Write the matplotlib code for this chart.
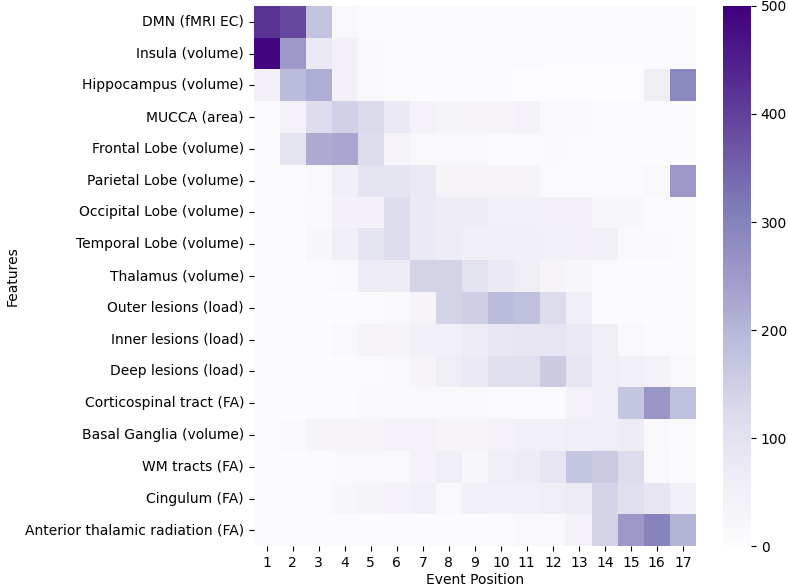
import numpy as np
import matplotlib
matplotlib.use("Agg")
import matplotlib.pyplot as plt
import seaborn as sns

features = [
    "DMN (fMRI EC)",
    "Insula (volume)",
    "Hippocampus (volume)",
    "MUCCA (area)",
    "Frontal Lobe (volume)",
    "Parietal Lobe (volume)",
    "Occipital Lobe (volume)",
    "Temporal Lobe (volume)",
    "Thalamus (volume)",
    "Outer lesions (load)",
    "Inner lesions (load)",
    "Deep lesions (load)",
    "Corticospinal tract (FA)",
    "Basal Ganglia (volume)",
    "WM tracts (FA)",
    "Cingulum (FA)",
    "Anterior thalamic radiation (FA)",
]
positions = list(range(1, 18))

# counts of each feature at each event position
dmn = [420, 390, 175, 20, 10, 8, 8, 8, 8, 8, 8, 8, 8, 8, 8, 10, 10]
insula = [490, 255, 75, 45, 15, 10, 8, 8, 8, 8, 10, 5, 5, 5, 5, 5, 5]
hippocampus = [45, 190, 215, 45, 20, 8, 5, 5, 5, 5, 3, 3, 3, 3, 3, 60, 290]
mucca = [10, 40, 115, 145, 125, 75, 40, 35, 30, 30, 40, 15, 15, 10, 8, 8, 8]
frontal = [10, 95, 220, 228, 120, 30, 20, 15, 15, 10, 10, 15, 10, 8, 5, 5, 5]
parietal = [5, 10, 20, 55, 95, 95, 80, 30, 30, 30, 30, 10, 10, 10, 10, 20, 255]
occipital = [5, 10, 15, 45, 45, 115, 75, 65, 65, 50, 50, 45, 45, 25, 25, 10, 10]
temporal = [5, 5, 25, 55, 95, 115, 75, 65, 55, 55, 55, 50, 45, 50, 15, 15, 10]
thalamus = [5, 5, 10, 15, 70, 70, 140, 140, 100, 75, 60, 30, 25, 10, 5, 5, 5]
outer = [5, 5, 5, 5, 8, 15, 30, 140, 150, 190, 180, 120, 60, 10, 8, 5, 5]
inner = [5, 5, 5, 20, 30, 30, 50, 50, 70, 85, 90, 90, 80, 60, 20, 10, 10]
deep = [5, 5, 5, 5, 10, 15, 30, 60, 80, 110, 110, 160, 90, 60, 50, 40, 20]
corticospinal = [5, 5, 5, 5, 15, 15, 15, 15, 15, 10, 10, 10, 40, 60, 170, 260, 180]
basal = [8, 15, 30, 30, 30, 40, 40, 30, 30, 40, 50, 50, 60, 60, 70, 20, 8]
wm = [5, 5, 10, 15, 20, 20, 40, 60, 25, 60, 70, 90, 170, 160, 120, 20, 5]
cingulum = [5, 5, 8, 25, 35, 40, 50, 20, 50, 50, 50, 60, 70, 140, 110, 90, 50]
atr = [5, 5, 5, 5, 5, 5, 5, 5, 5, 10, 20, 15, 40, 140, 255, 300, 205]

data = np.array([dmn, insula, hippocampus, mucca, frontal, parietal, occipital,
                 temporal, thalamus, outer, inner, deep, corticospinal, basal,
                 wm, cingulum, atr])

fig = plt.figure(figsize=(7.88, 5.88), dpi=100)
ax = fig.add_axes([0.322, 0.071, 0.561, 0.919])
cax = fig.add_axes([0.918, 0.071, 0.035, 0.919])

sns.heatmap(data, ax=ax, cbar_ax=cax, cmap="Purples", vmin=0, vmax=500,
            xticklabels=positions, yticklabels=features)
ax.set_xlabel("Event Position", fontsize=10, labelpad=2)
ax.set_ylabel("Features", fontsize=10)
ax.tick_params(axis="x", labelsize=10, rotation=0)
ax.tick_params(axis="y", labelsize=10, rotation=0)
cax.tick_params(labelsize=10)

plt.savefig("out.png", dpi=100)
